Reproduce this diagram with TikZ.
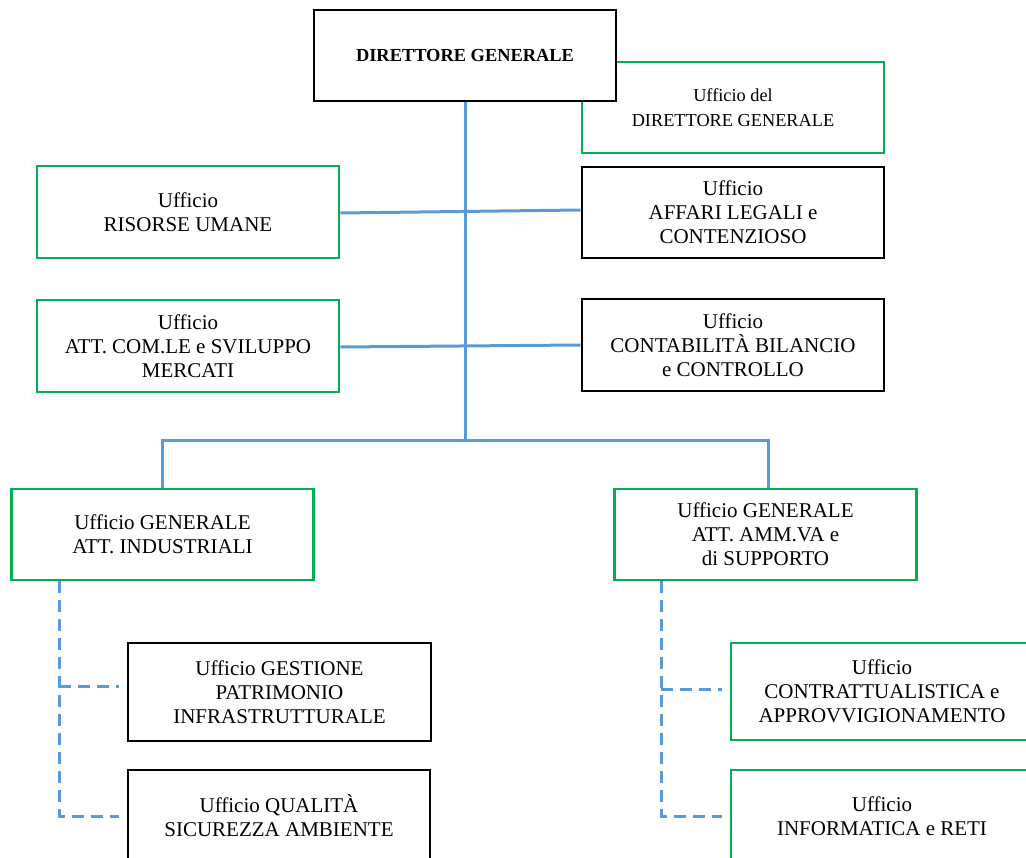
\documentclass[tikz,border=0pt]{standalone}
\usepackage{fontspec}
\setmainfont{Liberation Serif}
\usetikzlibrary{calc}
\definecolor{conn}{RGB}{91,155,213}
\definecolor{grn}{RGB}{0,176,80}
\begin{document}
\begin{tikzpicture}[x=1pt,y=-1pt,
  box/.style={draw,fill=white,line width=2.8pt,minimum width=302pt,minimum height=92pt,inner sep=0pt,align=center,font=\fontsize{21}{24}\selectfont},
  gbox/.style={box,draw=grn},
  bbox/.style={box,draw=black},
  link/.style={draw=conn,line width=3pt},
  dlink/.style={draw=conn,line width=3pt,dash pattern=on 12pt off 7pt}]
\useasboundingbox (0,0) rectangle (1026,858);
\clip (0,0) rectangle (1026,858);
% nodes
\node[gbox,font=\fontsize{18.3}{25}\selectfont,minimum height=91pt] (udg) at (733,107.5) {Ufficio del\\DIRETTORE GENERALE};
\node[bbox,minimum height=91pt,font=\fontsize{18.4}{24}\selectfont\bfseries] (dg) at (465,55.5) {DIRETTORE GENERALE};
\node[gbox] (ru) at (188,212) {Ufficio\\RISORSE UMANE};
\node[bbox,minimum height=91pt] (al) at (733,212.5) {Ufficio\\AFFARI LEGALI e\\CONTENZIOSO};
\node[gbox] (acm) at (188,346) {Ufficio\\ATT. COM.LE e SVILUPPO\\MERCATI};
\node[bbox] (cb) at (733,345) {Ufficio\\CONTABILITÀ BILANCIO\\e CONTROLLO};
\node[gbox,minimum height=91pt] (gi) at (162.5,534.5) {Ufficio GENERALE\\ATT. INDUSTRIALI};
\node[gbox,minimum height=91pt] (ga) at (765.5,534.5) {Ufficio GENERALE\\ATT. AMM.VA e\\di SUPPORTO};
\node[bbox,minimum width=303pt,minimum height=98pt] (gp) at (279.5,692) {Ufficio GESTIONE\\PATRIMONIO\\INFRASTRUTTURALE};
\node[bbox] (qs) at (279,816) {Ufficio QUALITÀ\\SICUREZZA AMBIENTE};
\node[gbox,minimum height=97pt] (ca) at (882,691.5) {Ufficio\\CONTRATTUALISTICA e\\APPROVVIGIONAMENTO};
\node[gbox] (ir) at (882,816) {Ufficio\\INFORMATICA e RETI};
% coordinates
\coordinate (hub) at (dg.south |- 0,441);
\coordinate (gid) at ($(gi.south west)+(49,0)$);
\coordinate (gad) at ($(ga.south west)+(48,0)$);
% solid connectors
\draw[link] (dg.south) -- (hub);
\draw[link] ([yshift=-1pt]ru.east) -- ([yshift=2.5pt]al.west);
\draw[link] ([yshift=-1pt]acm.east) -- (cb.west);
\draw[link] (gi.north) |- (hub) -| ([xshift=2.5pt]ga.north);
% dashed connectors
\draw[dlink] (gid) |- ([xshift=-8pt]qs.west);
\draw[dlink] (gid |- 0,686) -- ([xshift=-8pt,yshift=6pt]gp.west);
\draw[dlink] (gad) |- ([xshift=-8pt]ir.west);
\draw[dlink] (gad |- 0,689) -- ([xshift=-8pt,yshift=2.5pt]ca.west);
\end{tikzpicture}
\end{document}
